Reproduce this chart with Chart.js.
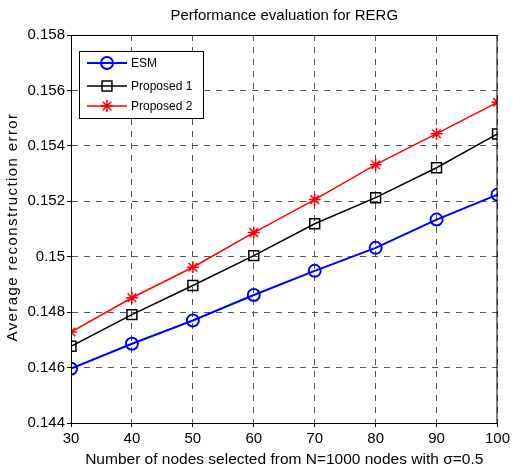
<!DOCTYPE html>
<html>
<head>
<meta charset="utf-8">
<script src="https://cdn.jsdelivr.net/npm/chart.js@4.4.1/dist/chart.umd.min.js"></script>
<style>
  html, body { margin: 0; padding: 0; background: #fff; }
  #wrap { width: 513px; height: 469px; }
</style>
</head>
<body>
<div id="wrap"><canvas id="rergChart" width="513" height="469"></canvas></div>
<script>
// values
const nodeCounts = [30, 40, 50, 60, 70, 80, 90, 100];
const esmError = [0.14596, 0.14686, 0.14770, 0.14862, 0.14949, 0.15032, 0.15134, 0.15224];
const proposed1Error = [0.14677, 0.14791, 0.14896, 0.15004, 0.15119, 0.15213, 0.15321, 0.15443];
const proposed2Error = [0.14728, 0.14852, 0.14962, 0.15087, 0.15206, 0.15332, 0.15444, 0.15557];
const yTicks = [0.144, 0.146, 0.148, 0.15, 0.152, 0.154, 0.156, 0.158];

const seriesNames = ['ESM', 'Proposed 1', 'Proposed 2'];
const seriesColors = ['#0000ff', '#000000', '#ff0000'];
const seriesMarkers = ['circle', 'rect', 'star'];
const seriesData = [esmError, proposed1Error, proposed2Error];

const yTitle = 'Average reconstruction error';
const fontFamily = '"Liberation Sans", Arial, sans-serif';

// box around the plot, spaced-out y title and the legend in the upper-left corner
const boxAndLegend = {
  id: 'boxAndLegend',
  afterDraw(chart) {
    const ctx = chart.ctx;
    const a = chart.chartArea;
    ctx.save();
    ctx.strokeStyle = '#000';
    ctx.lineWidth = 1;
    ctx.setLineDash([]);
    ctx.strokeRect(a.left + 0.5, a.top + 0.5, a.right - a.left - 1, a.bottom - a.top);

    // y axis title (MATLAB-ish letter spacing)
    ctx.save();
    ctx.translate(13, (a.top + a.bottom) / 2 - 2);
    ctx.rotate(-Math.PI / 2);
    ctx.font = '15px ' + fontFamily;
    ctx.letterSpacing = '1.4px';
    ctx.fillStyle = '#000';
    ctx.textAlign = 'center';
    ctx.textBaseline = 'middle';
    ctx.fillText(yTitle, 0, 0);
    ctx.restore();

    // legend
    const lx = a.left + 8, ly = a.top + 16, lw = 124, lh = 67;
    ctx.fillStyle = '#fff';
    ctx.fillRect(lx, ly, lw, lh);
    ctx.strokeRect(lx + 0.5, ly + 0.5, lw, lh);
    ctx.font = '12px ' + fontFamily;
    ctx.textBaseline = 'middle';
    const rowY = [ly + 12, ly + 35, ly + 55];
    chart.data.datasets.forEach((ds, i) => {
      const y = rowY[i];
      ctx.strokeStyle = ds.borderColor;
      ctx.lineWidth = ds.borderWidth;
      ctx.beginPath();
      ctx.moveTo(lx + 8, y);
      ctx.lineTo(lx + 48, y);
      ctx.stroke();
      ctx.fillStyle = 'rgba(0,0,0,0)';
      ctx.lineWidth = ds.pointBorderWidth;
      Chart.helpers.drawPoint(ctx, {
        pointStyle: ds.pointStyle,
        radius: ds.pointRadius,
        borderWidth: ds.pointBorderWidth
      }, lx + 28, y);
      ctx.fillStyle = '#000';
      ctx.fillText(ds.label, lx + 52, y + 1);
    });
    ctx.restore();
  }
};

const ctx = document.getElementById('rergChart').getContext('2d');

new Chart(ctx, {
  type: 'line',
  data: {
    datasets: seriesData.map((vals, i) => ({
      label: seriesNames[i],
      data: nodeCounts.map((n, j) => ({ x: n, y: vals[j] })),
      borderColor: seriesColors[i],
      backgroundColor: 'rgba(0,0,0,0)',
      borderWidth: i === 0 ? 2 : 1.5,
      pointStyle: seriesMarkers[i],
      pointRadius: i === 1 ? 7 : 6,
      pointBorderWidth: i === 0 ? 2 : 1.5,
      pointBorderColor: seriesColors[i],
      pointBackgroundColor: 'rgba(0,0,0,0)',
      tension: 0
    }))
  },
  options: {
    responsive: false,
    animation: false,
    layout: { padding: { left: 0, right: 14, top: 0, bottom: 0 } },
    plugins: {
      legend: { display: false },
      tooltip: { enabled: false },
      title: {
        display: true,
        text: 'Performance evaluation for RERG',
        fullSize: false,
        color: '#000',
        font: { family: fontFamily, size: 15, weight: 'normal' },
        padding: { top: 7, bottom: 10 }
      }
    },
    scales: {
      x: {
        type: 'linear',
        min: 30,
        max: 100,
        afterBuildTicks: s => { s.ticks = nodeCounts.map(v => ({ value: v })); },
        afterFit: s => { s.height = 46; },
        ticks: {
          color: '#000',
          font: { family: fontFamily, size: 15 },
          padding: 3
        },
        grid: {
          color: '#555',
          tickLength: 4,
          tickColor: '#000',
          tickBorderDash: []
        },
        border: { display: true, color: '#000', dash: [6, 6] },
        title: {
          display: true,
          text: 'Number of nodes selected from N=1000 nodes with σ=0.5',
          color: '#000',
          font: { family: fontFamily, size: 15.5 },
          padding: { top: 0, bottom: 0 }
        }
      },
      y: {
        type: 'linear',
        min: 0.144,
        max: 0.158,
        afterBuildTicks: s => { s.ticks = yTicks.map(v => ({ value: v })); },
        afterFit: s => { s.width = 71; },
        ticks: {
          color: '#000',
          font: { family: fontFamily, size: 15 },
          padding: 2,
          callback: v => String(Number(v.toFixed(3)))
        },
        grid: {
          color: '#555',
          tickLength: 4,
          tickColor: '#000',
          tickBorderDash: []
        },
        border: { display: true, color: '#000', dash: [6, 6] },
        title: { display: false }
      }
    }
  },
  plugins: [boxAndLegend]
});
</script>
</body>
</html>
